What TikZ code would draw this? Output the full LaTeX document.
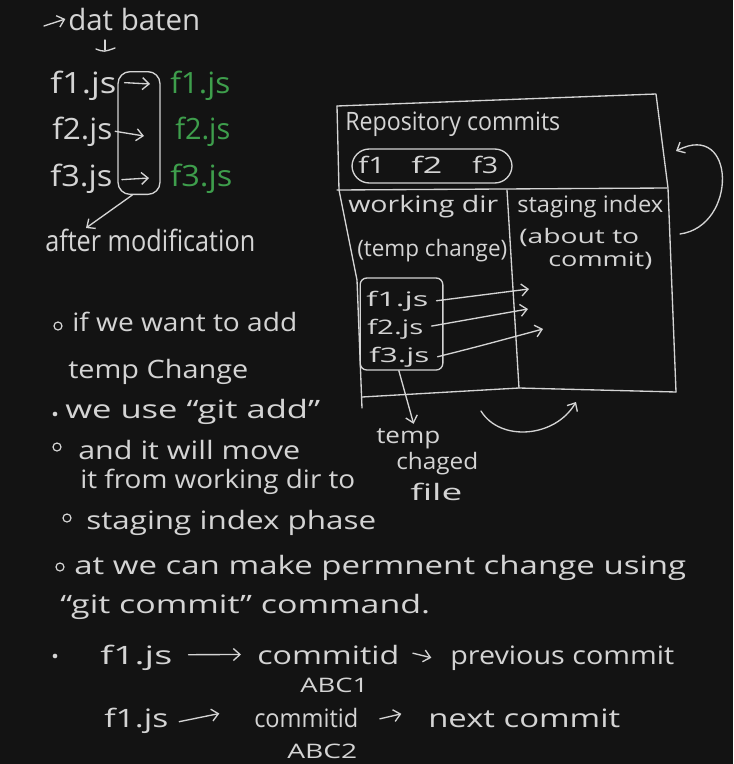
\documentclass[tikz,border=0pt]{standalone}
\usepackage{fontspec}
\setmainfont{Open Sans}
\usepackage{graphicx}
\usetikzlibrary{arrows.meta}
\definecolor{board}{HTML}{131313}
\definecolor{ink}{HTML}{D4D4D4}
\definecolor{leaf}{HTML}{3E9E4C}
% one drawing unit = one pixel of the sheet
\newdimen\pxu \pxu=0.75pt
% set a handwritten-looking word to a given width (in sheet units)
\newcommand\hw[2]{\resizebox{#1\pxu}{\height}{#2}}
\begin{document}
\begin{tikzpicture}[x=0.75pt,y=-0.75pt,
  t/.style={anchor=base west,inner sep=0pt,text=ink},
  fA/.style={font=\fontsize{22}{22}\selectfont},
  fB/.style={font=\fontsize{19}{19}\selectfont},
  fC/.style={font=\fontsize{17}{17}\selectfont},
  fD/.style={font=\fontsize{15}{15}\selectfont},
  ln/.style={draw=ink,line width=1pt,line cap=round,line join=round},
  arr/.style={ln,-{Straight Barb[length=5pt,width=9pt]}},
  frame/.style={ln,rounded corners=9pt,inner sep=0pt},
  ring/.style={circle,draw=ink,line width=0.9pt,minimum size=6pt,inner sep=0pt},
  dot/.style={circle,fill=ink,minimum size=3.5pt,inner sep=0pt}]
\fill[board] (0,0) rectangle (733,764);
\useasboundingbox (0,0) rectangle (733,764);

% ---- top left: files before / after modification
\node[t,fA] (dat) at (68,30) {\hw{132}{dat baten}};
\coordinate (datin) at (44,26);
\draw[arr] (datin) -- ([xshift=-2pt]dat.west);
\coordinate (dtop) at (105,40);
\coordinate (dbot) at (105,50);
\draw[ln] (dtop) -- (dbot);
\draw[ln] (96,49) .. controls (104,52) .. (115,48);

\node[t,fA] (wf1) at (50,93) {\hw{66}{f1.js}};
\node[t,fA] (wf2) at (52,139) {\hw{60}{f2.js}};
\node[t,fA] (wf3) at (50,186) {\hw{62}{f3.js}};
\node[frame,minimum width=31.5pt,minimum height=92pt] (grp) at (139,133) {};
\coordinate (g1) at (150,84);
\coordinate (g2) at (144,136);
\coordinate (g3) at (149,178);
\draw[arr] ([xshift=6pt,yshift=2pt]wf1.east) -- (g1);
\draw[arr] ([xshift=2pt]wf2.east) -- (g2);
\draw[arr] ([xshift=7pt,yshift=-1pt]wf3.east) -- (g3);
\node[t,fA,text=leaf] (gf1) at (170,93) {\hw{60}{f1.js}};
\node[t,fA,text=leaf] (gf2) at (175,139) {\hw{55}{f2.js}};
\node[t,fA,text=leaf] (gf3) at (170,186) {\hw{62}{f3.js}};

\node[t,fA] (after) at (45,251) {\hw{210}{after modification}};
\coordinate (aft) at (86,228);
\draw[arr] ([xshift=-5pt]grp.south) -- (aft);

% ---- repository box
\draw[ln] (337,106) -- (656,94) -- (668,188) -- (676,392);
\draw[ln] (337,106) -- (339,190) -- (357,280) -- (362,408);
\draw[ln] (362,397) -- (519,388) -- (676,392);
\draw[ln] (337,190) -- (667,188);
\draw[ln] (507,190) -- (519,388);

\node[t,fB] (repo) at (345,130) {\hw{215}{Repository commits}};
\node[t,fC] (c1) at (358,173) {\hw{27}{f1}};
\node[t,fC] (c2) at (411,173) {\hw{31}{f2}};
\node[t,fC] (c3) at (472,173) {\hw{26}{f3}};
\draw[ln,rounded corners=13pt] (352,149) rectangle (512,183);

\node[t,fC] (work) at (348,212) {\hw{150}{working dir}};
\node[t,fC] (tmpc) at (357,256) {\hw{150}{(temp change)}};
\node[t,fC] (stag) at (517,212) {\hw{146}{staging index}};
\node[t,fD] (about) at (519,243) {\hw{120}{(about to}};
\node[t,fD] (cmt) at (548,266) {\hw{104}{commit)}};

\node[t,fD] (bf1) at (366,306) {\hw{62}{f1.js}};
\node[t,fD] (bf2) at (367,334) {\hw{56}{f2.js}};
\node[t,fD] (bf3) at (369,362) {\hw{60}{f3.js}};
\node[frame,rounded corners=5pt,minimum width=62pt,minimum height=69pt] (fset) at (401.5,324) {};
\coordinate (s1) at (529,289);
\coordinate (s2) at (528,309);
\coordinate (s3) at (543,329);
\draw[arr] ([xshift=6pt]bf1.east) -- (s1);
\draw[arr] ([xshift=6pt,yshift=2pt]bf2.east) -- (s2);
\draw[arr] ([xshift=6pt]bf3.east) .. controls (480,346) .. (s3);

\node[t,fC] (tw1) at (376,443) {\hw{64}{temp}};
\node[t,fC] (tw2) at (396,469) {\hw{82}{chaged}};
\node[t,fC] (tw3) at (410,500) {\hw{52}{file}};
\draw[arr] ([xshift=-2pt]fset.south) -- ([xshift=4pt,yshift=3pt]tw1.north);

\coordinate (ua) at (481,411);
\coordinate (ub) at (576,402);
\draw[arr] (ua) .. controls (500,442) and (555,438) .. (ub);
\coordinate (ra) at (680,234);
\coordinate (rb) at (676,151);
\draw[arr] (ra) .. controls (738,226) and (736,120) .. (rb);

% ---- notes
\node[ring] (r1) at (58,326) {};
\node[t,fB] (n1) at (72,331) {\hw{225}{if we want to add}};
\node[t,fB] (n2) at (68,378) {\hw{180}{temp Change}};
\node[dot] (r2) at (55,414) {};
\node[t,fB] (n3) at (65,418) {\hw{255}{we use “git add”}};
\node[ring] (r3) at (57,447) {};
\node[t,fB] (n4) at (78,459) {\hw{222}{and it will move}};
\node[t,fB] (n5) at (80,488) {\hw{275}{it from working dir to}};
\node[ring] (r4) at (67,518) {};
\node[t,fB] (n6) at (86,529) {\hw{290}{staging index phase}};
\node[ring] (r5) at (60,567) {};
\node[t,fB] (n7) at (74,574) {\hw{612}{at we can make permnent change using}};
\node[t,fB] (n8) at (60,613) {\hw{370}{“git commit” command.}};

\node[dot] (r6) at (55,656) {};
\node[t,fB] (p1) at (100,664) {\hw{72}{f1.js}};
\node[t,fB] (p2) at (257,664) {\hw{142}{commitid}};
\node[t,fB] (p3) at (450,664) {\hw{224}{previous commit}};
\node[t,fD] (p4) at (300,692) {\hw{68}{ABC1}};
\draw[arr] ([xshift=12pt,yshift=2pt]p1.east) -- ([xshift=-12pt]p2.west);
\draw[arr] ([xshift=10pt,yshift=1pt]p2.east) -- ([xshift=-14pt]p3.west);

\node[t,fB] (q1) at (104,727) {\hw{64}{f1.js}};
\node[t,fB] (q2) at (254,727) {\hw{104}{commitid}};
\node[t,fB] (q3) at (428,727) {\hw{192}{next commit}};
\node[t,fD] (q4) at (287,758) {\hw{70}{ABC2}};
\draw[arr] ([xshift=8pt,yshift=-1pt]q1.east) -- ([xshift=-26pt,yshift=3pt]q2.west);
\draw[arr] ([xshift=16pt,yshift=-1pt]q2.east) -- ([xshift=-20pt,yshift=3pt]q3.west);
\end{tikzpicture}
\end{document}
